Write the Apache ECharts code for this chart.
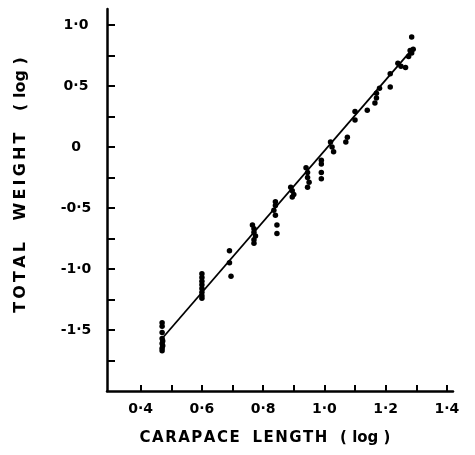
<!DOCTYPE html>
<html>
<head>
<meta charset="utf-8">
<script src="https://cdn.jsdelivr.net/npm/echarts@6/dist/echarts.min.js"></script>
<style>
html,body{margin:0;padding:0;background:#fff;}
#chart{width:475px;height:455px;}
</style>
</head>
<body>
<div id="chart"></div>
<script>
// Observed points: log carapace length vs log total weight
const pointsX = [
  0.47,0.47,0.47,0.47,0.472,0.47,0.472,0.47,0.47,
  0.6,0.6,0.6,0.6,0.6,0.6,0.6,0.6,
  0.69,0.69,0.695,
  0.765,0.77,0.77,0.775,0.77,0.77,
  0.84,0.84,0.835,0.84,0.845,0.845,
  0.89,0.895,0.9,0.895,
  0.94,0.945,0.945,0.95,0.945,
  0.99,0.99,0.99,0.99,
  1.02,1.025,1.03,
  1.07,1.075,
  1.1,1.1,
  1.14,
  1.165,1.17,1.17,1.18,
  1.215,1.215,
  1.24,1.25,1.265,1.275,1.28,1.285,1.285,1.29
];
const pointsY = [
  -1.44,-1.47,-1.52,-1.57,-1.59,-1.61,-1.63,-1.65,-1.67,
  -1.04,-1.07,-1.10,-1.13,-1.16,-1.19,-1.22,-1.24,
  -0.85,-0.95,-1.06,
  -0.64,-0.67,-0.70,-0.73,-0.76,-0.79,
  -0.45,-0.48,-0.52,-0.56,-0.64,-0.71,
  -0.33,-0.36,-0.39,-0.41,
  -0.17,-0.21,-0.25,-0.29,-0.33,
  -0.11,-0.14,-0.21,-0.26,
  0.04,0.00,-0.04,
  0.04,0.08,
  0.22,0.29,
  0.30,
  0.36,0.40,0.44,0.48,
  0.49,0.60,
  0.685,0.66,0.65,0.74,0.79,0.77,0.90,0.80
];
// Fitted regression line endpoints
const lineX = [0.47, 1.29];
const lineY = [-1.57, 0.81];
// Tick marks and labels
const xTicks = [0.4,0.5,0.6,0.7,0.8,0.9,1.0,1.1,1.2,1.3,1.4];
const xLabels = [0.4,0.6,0.8,1.0,1.2,1.4];
const yTicks = [-1.75,-1.5,-1.25,-1.0,-0.75,-0.5,-0.25,0,0.25,0.5,0.75,1.0];
const yLabels = [-1.5,-1.0,-0.5,0,0.5,1.0];
const xNameWords = ['CARAPACE', 'LENGTH'];
const yNameWords = ['TOTAL', 'WEIGHT'];
const nameUnit = '( log )';

// letter-spaced caps words (typographic spacing only)
const spaceWords = (words, gap, wordGap) =>
  words.map(w => w.split('').join(gap)).join(wordGap) + wordGap + nameUnit;
const fmt = v => (Math.abs(v) < 1e-9 ? '0' : v.toFixed(1).replace('.', '·'));
const FONT = 'DejaVu Sans';

const chart = echarts.init(document.getElementById('chart'), null, {renderer: 'canvas'});
chart.setOption({
  animation: false,
  backgroundColor: '#fff',
  grid: {left: 107, right: 22, top: 9, bottom: 64, containLabel: false},
  xAxis: {
    type: 'value', min: 0.29, max: 1.42,
    name: spaceWords(xNameWords, '\u200A', '\u2002 '), nameLocation: 'middle', nameGap: 40,
    nameTextStyle: {color: '#000', fontFamily: FONT, fontSize: 15, fontWeight: 'bold', padding: [0, 30, 0, 0]},
    axisLine: {show: true, onZero: false, lineStyle: {color: '#000', width: 2.5}},
    axisTick: {show: true, inside: true, length: 6, customValues: xTicks, lineStyle: {color: '#000', width: 2}},
    axisLabel: {show: true, customValues: xLabels, formatter: fmt, margin: 11,
      color: '#000', fontFamily: FONT, fontSize: 14, fontWeight: 'bold'},
    splitLine: {show: false}
  },
  yAxis: {
    type: 'value', min: -2.0, max: 1.13,
    name: spaceWords(yNameWords, '\u2009', '\u2002\u2002 '), nameLocation: 'middle', nameGap: 78,
    nameTextStyle: {color: '#000', fontFamily: FONT, fontSize: 16, fontWeight: 'bold', padding: [0, 0, 0, 30]},
    axisLine: {show: true, onZero: false, lineStyle: {color: '#000', width: 2.5}},
    axisTick: {show: true, inside: true, length: 8, customValues: yTicks, lineStyle: {color: '#000', width: 2}},
    axisLabel: {show: true, customValues: yLabels, formatter: fmt, margin: 31, align: 'center',
      color: '#000', fontFamily: FONT, fontSize: 14, fontWeight: 'bold'},
    splitLine: {show: false}
  },
  series: [
    {
      type: 'line',
      data: lineX.map((x, i) => [x, lineY[i]]),
      showSymbol: false, symbol: 'none',
      lineStyle: {color: '#000', width: 1.8},
      z: 2
    },
    {
      type: 'scatter',
      data: pointsX.map((x, i) => [x, pointsY[i]]),
      symbol: 'circle', symbolSize: 5.5,
      itemStyle: {color: '#000', opacity: 1},
      z: 3
    }
  ]
});
</script>
</body>
</html>
